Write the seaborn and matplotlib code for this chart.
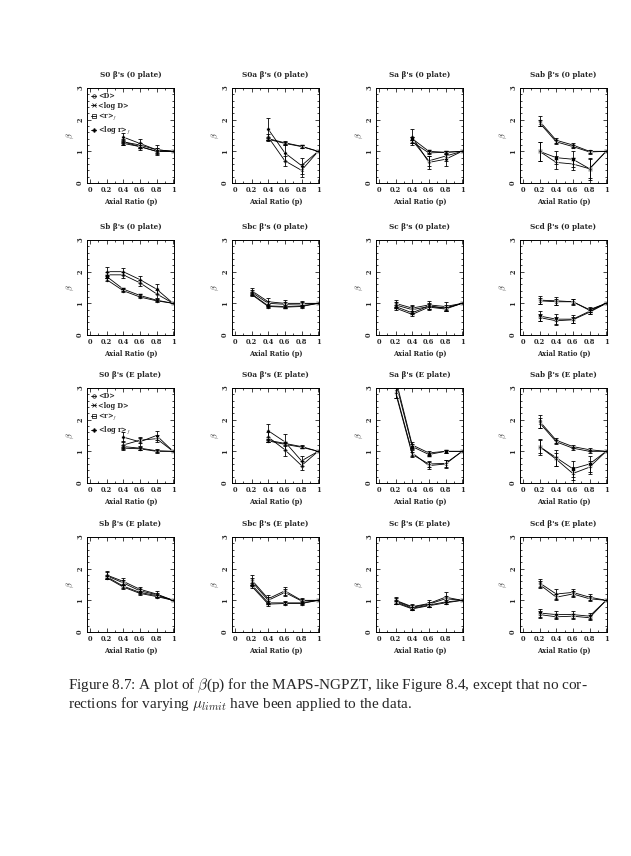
import numpy as np
import pandas as pd
import matplotlib
matplotlib.use("Agg")
import matplotlib.pyplot as plt
from matplotlib.lines import Line2D
from matplotlib.ticker import MultipleLocator
import seaborn as sns

sns.set_style("ticks")
plt.rcParams['font.family'] = ['DejaVu Serif']
plt.rcParams['mathtext.fontset'] = 'cm'

# ---------------- data ----------------
p4 = [0.4, 0.6, 0.8, 1.0]
p5 = [0.2, 0.4, 0.6, 0.8, 1.0]

series_labels = ["<D>", "<log D>", "<r>$_f$", "<log r>$_f$"]

titles = ["S0 β's (0 plate)", "S0a β's (0 plate)", "Sa β's (0 plate)", "Sab β's (0 plate)",
          "Sb β's (0 plate)", "Sbc β's (0 plate)", "Sc β's (0 plate)", "Scd β's (0 plate)",
          "S0 β's (E plate)", "S0a β's (E plate)", "Sa β's (E plate)", "Sab β's (E plate)",
          "Sb β's (E plate)", "Sbc β's (E plate)", "Sc β's (E plate)", "Scd β's (E plate)"]

S0_0 = [[1.45, 1.25, 1.05, 1.0], [1.30, 1.15, 1.00, 1.0], [1.25, 1.15, 1.00, 1.0], [1.30, 1.20, 1.05, 1.0]]
S0_0_err = [[0.12, 0.15, 0.15, 0], [0.10, 0.10, 0.12, 0], [0.05, 0.05, 0.05, 0], [0.05, 0.05, 0.05, 0]]

S0a_0 = [[1.70, 0.95, 0.55, 1.0], [1.45, 0.70, 0.40, 1.0], [1.40, 1.27, 1.16, 1.0], [1.38, 1.25, 1.15, 1.0]]
S0a_0_err = [[0.35, 0.25, 0.25, 0], [0.10, 0.15, 0.20, 0], [0.05, 0.05, 0.05, 0], [0.04, 0.04, 0.04, 0]]

Sa_0 = [[1.45, 0.65, 0.75, 1.0], [1.35, 0.70, 0.85, 1.0], [1.40, 1.00, 0.97, 1.0], [1.30, 0.95, 0.97, 1.0]]
Sa_0_err = [[0.25, 0.20, 0.20, 0], [0.10, 0.15, 0.15, 0], [0.05, 0.05, 0.05, 0], [0.05, 0.05, 0.05, 0]]

Sab_0 = [[1.95, 1.35, 1.20, 1.00, 1.0], [1.90, 1.30, 1.15, 0.98, 1.0], [1.00, 0.80, 0.75, 0.45, 1.0], [1.00, 0.65, 0.60, 0.45, 1.0]]
Sab_0_err = [[0.15, 0.08, 0.06, 0.05, 0], [0.10, 0.06, 0.05, 0.05, 0], [0.30, 0.20, 0.25, 0.35, 0], [0.30, 0.20, 0.20, 0.30, 0]]

Sb_0 = [[2.00, 2.00, 1.75, 1.45, 1.0], [1.90, 1.90, 1.65, 1.30, 1.0], [1.85, 1.45, 1.25, 1.10, 1.0], [1.75, 1.40, 1.20, 1.08, 1.0]]
Sb_0_err = [[0.15, 0.12, 0.10, 0.15, 0], [0.10, 0.10, 0.10, 0.12, 0], [0.05, 0.05, 0.04, 0.04, 0], [0.05, 0.04, 0.04, 0.04, 0]]

Sbc_0 = [[1.40, 1.05, 1.00, 1.00, 1.0], [1.35, 1.00, 0.97, 0.98, 1.0], [1.30, 0.92, 0.90, 0.92, 1.0], [1.28, 0.90, 0.88, 0.90, 1.0]]
Sbc_0_err = [[0.10, 0.12, 0.10, 0.08, 0], [0.08, 0.08, 0.08, 0.06, 0], [0.05, 0.05, 0.04, 0.04, 0], [0.04, 0.04, 0.04, 0.04, 0]]

Sc_0 = [[1.00, 0.85, 0.95, 0.90, 1.0], [0.95, 0.80, 0.90, 0.85, 1.0], [0.90, 0.70, 0.92, 0.85, 1.0], [0.85, 0.65, 0.88, 0.82, 1.0]]
Sc_0_err = [[0.12, 0.10, 0.12, 0.15, 0], [0.10, 0.12, 0.10, 0.10, 0], [0.05, 0.05, 0.05, 0.05, 0], [0.05, 0.05, 0.05, 0.05, 0]]

Scd_0 = [[1.10, 1.08, 1.05, 0.80, 1.0], [1.08, 1.05, 1.05, 0.78, 1.0], [0.60, 0.50, 0.50, 0.75, 1.0], [0.55, 0.45, 0.48, 0.72, 1.0]]
Scd_0_err = [[0.12, 0.12, 0.10, 0.08, 0], [0.10, 0.10, 0.08, 0.06, 0], [0.15, 0.15, 0.12, 0.08, 0], [0.12, 0.12, 0.10, 0.06, 0]]

S0_E = [[1.45, 1.30, 1.50, 1.0], [1.20, 1.35, 1.40, 1.0], [1.15, 1.10, 1.02, 1.0], [1.10, 1.08, 1.00, 1.0]]
S0_E_err = [[0.15, 0.12, 0.15, 0], [0.12, 0.10, 0.12, 0], [0.05, 0.05, 0.04, 0], [0.05, 0.04, 0.04, 0]]

S0a_E = [[1.65, 1.30, 0.70, 1.0], [1.45, 1.05, 0.55, 1.0], [1.35, 1.25, 1.15, 1.0], [1.33, 1.22, 1.13, 1.0]]
S0a_E_err = [[0.20, 0.25, 0.15, 0], [0.15, 0.20, 0.15, 0], [0.05, 0.05, 0.05, 0], [0.04, 0.04, 0.04, 0]]

Sa_E = [[3.30, 1.20, 0.95, 1.00, 1.0], [2.90, 0.95, 0.55, 0.60, 1.0], [3.20, 1.15, 0.90, 1.00, 1.0], [2.85, 0.90, 0.60, 0.62, 1.0]]
Sa_E_err = [[0.30, 0.10, 0.05, 0.05, 0], [0.20, 0.10, 0.12, 0.12, 0], [0.20, 0.08, 0.05, 0.05, 0], [0.15, 0.08, 0.10, 0.10, 0]]

Sab_E = [[1.95, 1.35, 1.15, 1.05, 1.0], [1.90, 1.30, 1.10, 1.00, 1.0], [1.15, 0.80, 0.45, 0.60, 1.0], [1.15, 0.75, 0.30, 0.50, 1.0]]
Sab_E_err = [[0.20, 0.08, 0.06, 0.05, 0], [0.15, 0.06, 0.05, 0.05, 0], [0.25, 0.25, 0.25, 0.25, 0], [0.20, 0.20, 0.20, 0.20, 0]]

Sb_E = [[1.80, 1.60, 1.35, 1.20, 1.0], [1.78, 1.55, 1.30, 1.18, 1.0], [1.75, 1.45, 1.25, 1.15, 1.0], [1.72, 1.42, 1.22, 1.12, 1.0]]
Sb_E_err = [[0.12, 0.10, 0.08, 0.08, 0], [0.10, 0.08, 0.06, 0.06, 0], [0.06, 0.06, 0.05, 0.05, 0], [0.05, 0.05, 0.04, 0.04, 0]]

Sbc_E = [[1.65, 1.05, 1.30, 1.00, 1.0], [1.60, 1.00, 1.25, 0.98, 1.0], [1.50, 0.92, 0.92, 0.92, 1.0], [1.45, 0.88, 0.90, 0.90, 1.0]]
Sbc_E_err = [[0.15, 0.12, 0.12, 0.08, 0], [0.12, 0.10, 0.10, 0.06, 0], [0.06, 0.05, 0.05, 0.05, 0], [0.05, 0.05, 0.04, 0.04, 0]]

Sc_E = [[1.00, 0.80, 0.90, 1.10, 1.0], [0.98, 0.78, 0.88, 1.05, 1.0], [0.95, 0.75, 0.85, 0.95, 1.0], [0.92, 0.73, 0.83, 0.92, 1.0]]
Sc_E_err = [[0.10, 0.08, 0.10, 0.15, 0], [0.08, 0.07, 0.08, 0.10, 0], [0.05, 0.05, 0.05, 0.05, 0], [0.05, 0.05, 0.04, 0.04, 0]]

Scd_E = [[1.55, 1.20, 1.25, 1.10, 1.0], [1.50, 1.10, 1.20, 1.05, 1.0], [0.60, 0.55, 0.55, 0.50, 1.0], [0.55, 0.48, 0.50, 0.45, 1.0]]
Scd_E_err = [[0.12, 0.15, 0.10, 0.10, 0], [0.10, 0.10, 0.08, 0.08, 0], [0.12, 0.10, 0.10, 0.10, 0], [0.10, 0.08, 0.08, 0.08, 0]]

panel_x = [p4, p4, p4, p5, p5, p5, p5, p5, p4, p4, p5, p5, p5, p5, p5, p5]
panel_y = [S0_0, S0a_0, Sa_0, Sab_0, Sb_0, Sbc_0, Sc_0, Scd_0,
           S0_E, S0a_E, Sa_E, Sab_E, Sb_E, Sbc_E, Sc_E, Scd_E]
panel_err = [S0_0_err, S0a_0_err, Sa_0_err, Sab_0_err, Sb_0_err, Sbc_0_err, Sc_0_err, Scd_0_err,
             S0_E_err, S0a_E_err, Sa_E_err, Sab_E_err, Sb_E_err, Sbc_E_err, Sc_E_err, Scd_E_err]

# ---------------- figure ----------------
W, H = 631, 856
fig = plt.figure(figsize=(W / 100, H / 100), dpi=100)

col_left = [87, 232, 376, 520]
row_top = [88, 240, 388, 537]
ax_w, ax_h = 87, 95
markers = ['o', 'X', 's', 'P']
fs = 4.8

for i in range(16):
    r, c = divmod(i, 4)
    ax = fig.add_axes([col_left[c] / W, 1 - (row_top[r] + ax_h) / H, ax_w / W, ax_h / H])
    rows = []
    for k in range(4):
        for xv, yv, ev in zip(panel_x[i], panel_y[i][k], panel_err[i][k]):
            rows.append({"p": xv, "beta": yv, "err": ev, "series": series_labels[k]})
    df = pd.DataFrame(rows)
    sns.lineplot(data=df, x="p", y="beta", style="series", markers=markers, dashes=False,
                 color="black", linewidth=0.6, markersize=2.6, estimator=None, sort=False,
                 legend=False, ax=ax, markeredgewidth=0.4)
    ax.errorbar(df["p"], df["beta"], yerr=df["err"], fmt="none", ecolor="black",
                elinewidth=0.6, capsize=1.5, capthick=0.6)
    ax.set_xlim(-0.035, 1.01)
    ax.set_ylim(0, 3)
    ax.xaxis.set_minor_locator(MultipleLocator(0.1))
    ax.yaxis.set_minor_locator(MultipleLocator(0.2))
    ax.set_xticks([0, 0.2, 0.4, 0.6, 0.8, 1.0])
    ax.set_xticklabels(["0", "0.2", "0.4", "0.6", "0.8", "1"], fontsize=fs, fontweight="bold")
    ax.set_yticks([0, 1, 2, 3])
    ax.set_yticklabels(["0", "1", "2", "3"], fontsize=fs, fontweight="bold", rotation=90, va="center")
    ax.tick_params(which="both", direction="in", top=True, right=True, width=0.6, pad=2)
    ax.tick_params(which="major", length=3)
    ax.tick_params(which="minor", length=1.5)
    for s in ax.spines.values():
        s.set_linewidth(0.7)
        s.set_color("black")
    ax.set_title(titles[i], fontsize=fs + 0.4, fontweight="bold", pad=8)
    ax.set_xlabel("Axial Ratio (p)", fontsize=fs, fontweight="bold", labelpad=3)
    ax.set_ylabel(r"$\beta$", fontsize=fs + 1, labelpad=0)
    if i in (0, 8):
        handles = [Line2D([0], [0], color="black", marker=m, markersize=2.5, linewidth=0.6,
                          markerfacecolor="none" if m in ('o', 's') else "black", markeredgewidth=0.5)
                   for m in ['o', 'x', 's', 'P']]
        ax.legend(handles, series_labels, loc="upper left", frameon=False,
                  handlelength=0.8, handletextpad=0.3, borderaxespad=0.5, labelspacing=0.25,
                  borderpad=0.1, prop={"size": fs, "weight": "bold"})

cap_font = ['Liberation Serif', 'DejaVu Serif']
fig.text(68 / W, 1 - 686 / H,
         r"Figure 8.7: A plot of $\beta$(p) for the MAPS-NGPZT, like Figure 8.4, except that no cor-",
         fontsize=11, family=cap_font, va="center", ha="left")
fig.text(68 / W, 1 - 704 / H,
         r"rections for varying $\mu_{limit}$ have been applied to the data.",
         fontsize=11, family=cap_font, va="center", ha="left")

fig.savefig("out.png", dpi=100)
